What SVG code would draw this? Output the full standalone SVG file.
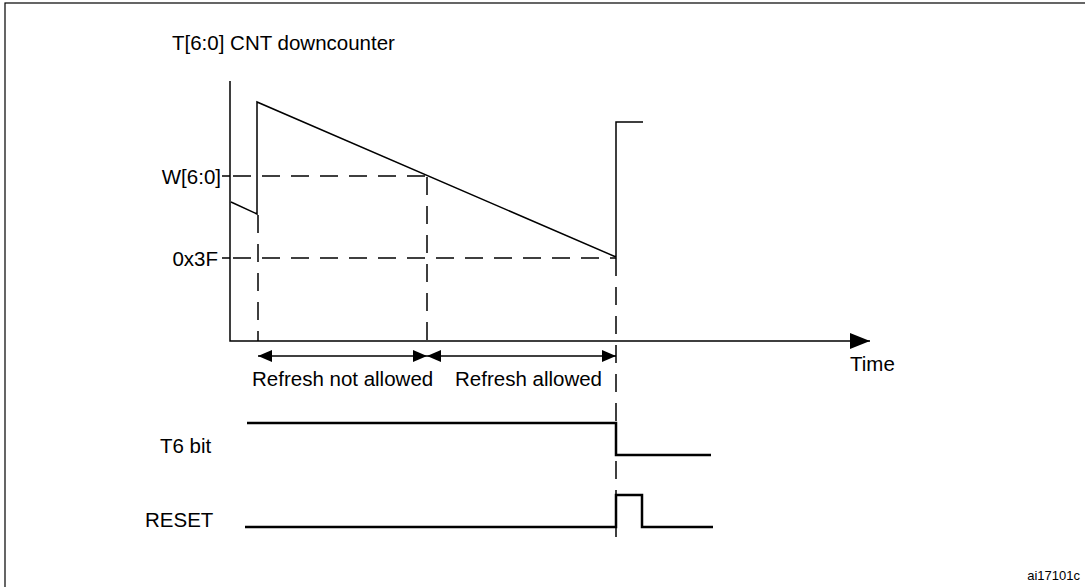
<svg xmlns="http://www.w3.org/2000/svg" width="1085" height="587" viewBox="0 0 1085 587">
<style>
text{font-family:"Liberation Sans",Arial,sans-serif;font-size:20.5px;fill:#000}
.s{stroke:#000;stroke-width:1.5;fill:none}
.t{stroke:#000;stroke-width:2.5;fill:none}
.d{stroke:#000;stroke-width:1.5;fill:none;stroke-dasharray:18,11}
</style>
<defs>
<marker id="a" markerWidth="14" markerHeight="12" refX="14" refY="6" orient="auto-start-reverse" markerUnits="userSpaceOnUse"><path d="M0,0L14,6L0,12z" fill="#000"/></marker>
<marker id="b" markerWidth="20" markerHeight="16" refX="20" refY="8" orient="auto" markerUnits="userSpaceOnUse"><path d="M0,0L20,8L0,16z" fill="#000"/></marker>
</defs>
<rect x="5" y="3" width="1090" height="600" fill="#fff" stroke="#000" stroke-width="1.2"/>
<g id="labels">
<text x="172" y="50">T[6:0] CNT downcounter</text>
<text x="221" y="184" text-anchor="end">W[6:0]</text>
<text x="218" y="266" text-anchor="end">0x3F</text>
<text x="850" y="371">Time</text>
<text x="252" y="386">Refresh not allowed</text>
<text x="455" y="386">Refresh allowed</text>
<text x="160" y="453">T6 bit</text>
<text x="145" y="527">RESET</text>
<text x="1080" y="580" text-anchor="end" style="font-size:13px">ai17101c</text>
</g>
<g id="connectors">
<path class="s" d="M230,81V341H870" marker-end="url(#b)"/>
<path class="s" d="M222,176H230M222,258H230"/>
<path class="s" d="M231,202L257,214V102L616,257V122H643"/>
<path class="d" d="M233,176H427M233,258H616"/>
<path class="d" d="M258,215V341M427,177V341M616,258V545"/>
<path class="s" d="M258,356H427" marker-start="url(#a)" marker-end="url(#a)"/>
<path class="s" d="M427,356H616" marker-start="url(#a)" marker-end="url(#a)"/>
<path class="t" d="M247,423H616V455H711"/>
<path class="t" d="M245,527H616V495H642V527H713"/>
</g>
</svg>
